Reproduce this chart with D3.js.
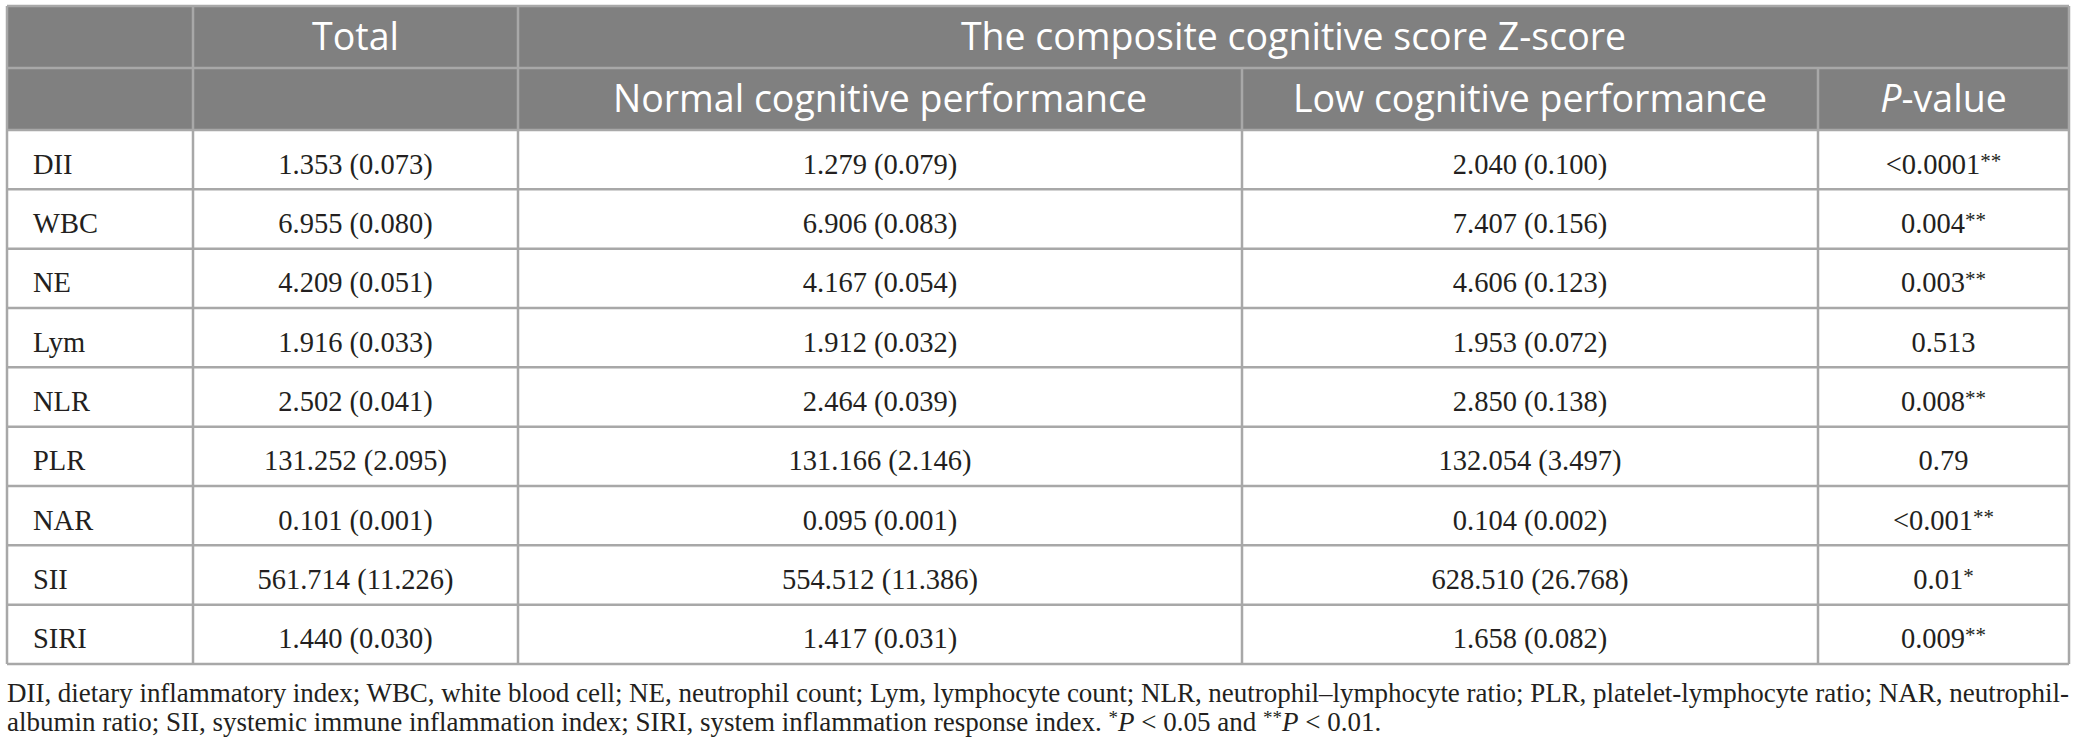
<!DOCTYPE html>
<html>
<head>
<meta charset="utf-8">
<script src="https://cdn.jsdelivr.net/npm/d3@7"></script>
<style>
  body { margin: 0; background: #fff; }
</style>
</head>
<body>
<svg id="tbl"></svg>
<script>
// table contents
var variables = ["DII", "WBC", "NE", "Lym", "NLR", "PLR", "NAR", "SII", "SIRI"];
var totalVals = ["1.353 (0.073)", "6.955 (0.080)", "4.209 (0.051)", "1.916 (0.033)", "2.502 (0.041)",
                 "131.252 (2.095)", "0.101 (0.001)", "561.714 (11.226)", "1.440 (0.030)"];
var normalVals = ["1.279 (0.079)", "6.906 (0.083)", "4.167 (0.054)", "1.912 (0.032)", "2.464 (0.039)",
                  "131.166 (2.146)", "0.095 (0.001)", "554.512 (11.386)", "1.417 (0.031)"];
var lowVals = ["2.040 (0.100)", "7.407 (0.156)", "4.606 (0.123)", "1.953 (0.072)", "2.850 (0.138)",
               "132.054 (3.497)", "0.104 (0.002)", "628.510 (26.768)", "1.658 (0.082)"];
var pVals = ["<0.0001", "0.004", "0.003", "0.513", "0.008", "0.79", "<0.001", "0.01", "0.009"];
var pStars = ["**", "**", "**", "", "**", "", "**", "*", "**"];
var topHeaders = ["", "Total", "The composite cognitive score Z-score"];
var subHeaders = ["", "", "Normal cognitive performance", "Low cognitive performance", "P-value"];
var footLine1 = "DII, dietary inflammatory index; WBC, white blood cell; NE, neutrophil count; Lym, lymphocyte count; NLR, neutrophil\u2013lymphocyte ratio; PLR, platelet-lymphocyte ratio; NAR, neutrophil-";
var footLine2 = "albumin ratio; SII, systemic immune inflammation index; SIRI, system inflammation response index. ";

var width = 2076, height = 756;
var svg = d3.select("#tbl").attr("width", width).attr("height", height);
svg.append("rect").attr("width", width).attr("height", height).attr("fill", "#fff");

// layout
var colKeys = ["var", "total", "normal", "low", "p"];
var colEdges = [7, 193, 518, 1242, 1818, 2069];
var tableTop = 6, headH = 62;
var bodyTop = tableTop + 2 * headH, bodyBottom = 664;

var xLeft = d3.scaleOrdinal().domain(colKeys).range(colEdges.slice(0, 5));
var xRight = d3.scaleOrdinal().domain(colKeys).range(colEdges.slice(1));
var xMid = k => (xLeft(k) + xRight(k)) / 2;

var y = d3.scaleBand().domain(variables).range([bodyTop, bodyBottom]);

var lineCol = "#a8a8a8", headFill = "#808080", ink = "#231f20";
var sans = "'Open Sans', sans-serif", serif = "'Liberation Serif', 'Times New Roman', serif";
var headSize = 37.5, bodySize = 28.5;

// header background
svg.append("rect")
    .attr("x", colEdges[0]).attr("y", tableTop)
    .attr("width", colEdges[5] - colEdges[0]).attr("height", 2 * headH)
    .attr("fill", headFill);

// header texts row 1
svg.append("text")
    .attr("x", xMid("total")).attr("y", tableTop + headH / 2 + 13)
    .attr("text-anchor", "middle").attr("font-family", sans).attr("font-size", headSize)
    .attr("fill", "#fff").text(topHeaders[1]);
svg.append("text")
    .attr("x", (xLeft("normal") + xRight("p")) / 2).attr("y", tableTop + headH / 2 + 13)
    .attr("text-anchor", "middle").attr("font-family", sans).attr("font-size", headSize)
    .attr("fill", "#fff").text(topHeaders[2]);

// header texts row 2
["normal", "low"].forEach((k, i) => {
    svg.append("text")
        .attr("x", xMid(k)).attr("y", tableTop + headH * 1.5 + 13)
        .attr("text-anchor", "middle").attr("font-family", sans).attr("font-size", headSize)
        .attr("fill", "#fff").text(subHeaders[i + 2]);
});
var ph = svg.append("text")
    .attr("x", xMid("p")).attr("y", tableTop + headH * 1.5 + 13)
    .attr("text-anchor", "middle").attr("font-family", sans).attr("font-size", headSize)
    .attr("fill", "#fff");
ph.append("tspan").attr("font-style", "italic").text(subHeaders[4].slice(0, 1));
ph.append("tspan").text(subHeaders[4].slice(1));

// body cells
var rows = svg.selectAll("g.row").data(variables).join("g").attr("class", "row");

rows.append("text")
    .attr("x", xLeft("var") + 26).attr("y", d => y(d) + y.bandwidth() / 2 + 14)
    .attr("font-family", serif).attr("font-size", bodySize).attr("fill", ink)
    .text(d => d);

[["total", totalVals], ["normal", normalVals], ["low", lowVals]].forEach(([k, vals]) => {
    rows.append("text")
        .attr("x", xMid(k)).attr("y", d => y(d) + y.bandwidth() / 2 + 14)
        .attr("text-anchor", "middle").attr("font-family", serif).attr("font-size", bodySize)
        .attr("fill", ink)
        .text((d, i) => vals[i]);
});

var pText = rows.append("text")
    .attr("x", xMid("p")).attr("y", d => y(d) + y.bandwidth() / 2 + 14)
    .attr("text-anchor", "middle").attr("font-family", serif).attr("font-size", bodySize)
    .attr("fill", ink);
pText.append("tspan").text((d, i) => pVals[i]);
pText.append("tspan").attr("font-size", 21).attr("dy", -6).text((d, i) => pStars[i]);

// grid lines
var hLines = [tableTop, tableTop + headH, bodyTop].concat(variables.map(v => y(v) + y.bandwidth()));
svg.selectAll("line.h").data(hLines).join("line")
    .attr("x1", colEdges[0]).attr("x2", colEdges[5])
    .attr("y1", d => d).attr("y2", d => d)
    .attr("stroke", lineCol).attr("stroke-width", 2.5);

// vertical lines: outer + first two separators full height, others only below first header row
var vLines = [
    {x: colEdges[0], y1: tableTop}, {x: colEdges[1], y1: tableTop}, {x: colEdges[2], y1: tableTop},
    {x: colEdges[3], y1: tableTop + headH}, {x: colEdges[4], y1: tableTop + headH}, {x: colEdges[5], y1: tableTop}
];
svg.selectAll("line.v").data(vLines).join("line")
    .attr("x1", d => d.x).attr("x2", d => d.x)
    .attr("y1", d => d.y1).attr("y2", bodyBottom)
    .attr("stroke", lineCol).attr("stroke-width", 2.5);

// footnote
svg.append("text")
    .attr("x", colEdges[0]).attr("y", 702)
    .attr("font-family", serif).attr("font-size", 27).attr("fill", ink)
    .attr("textLength", colEdges[5] - colEdges[0]).attr("lengthAdjust", "spacing")
    .text(footLine1);

var f2 = svg.append("text")
    .attr("x", colEdges[0]).attr("y", 731)
    .attr("font-family", serif).attr("font-size", 27).attr("fill", ink);
f2.append("tspan").text(footLine2);
f2.append("tspan").attr("font-size", 19).attr("dy", -7).text("*");
f2.append("tspan").attr("font-style", "italic").attr("dy", 7).text("P");
f2.append("tspan").text(" < 0.05 and ");
f2.append("tspan").attr("font-size", 19).attr("dy", -7).text("**");
f2.append("tspan").attr("font-style", "italic").attr("dy", 7).text("P");
f2.append("tspan").text(" < 0.01.");
</script>
</body>
</html>
